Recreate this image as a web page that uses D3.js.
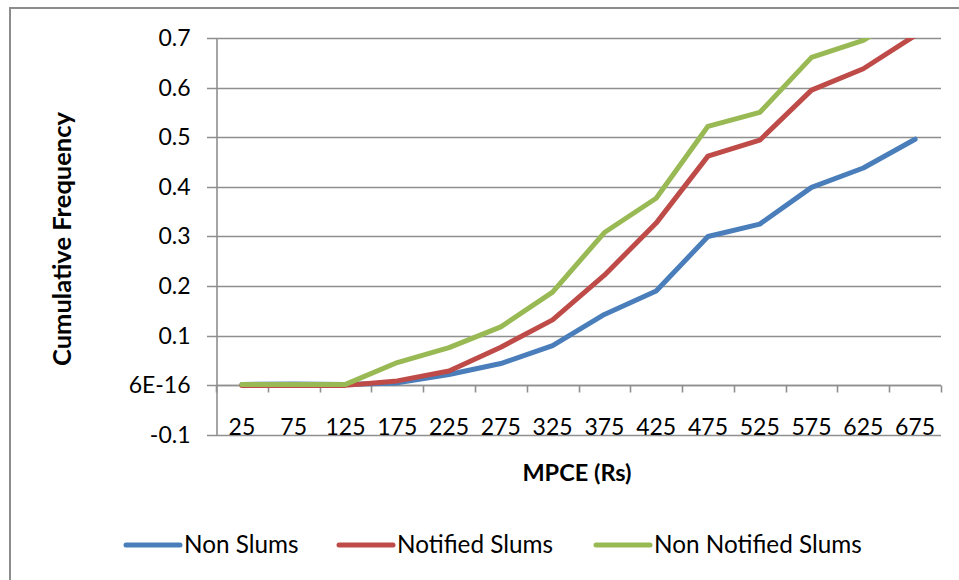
<!DOCTYPE html>
<html>
<head>
<meta charset="utf-8">
<script src="https://cdn.jsdelivr.net/npm/d3@7"></script>
<style>
  html, body { margin: 0; padding: 0; background: #ffffff; }
  svg { display: block; }
  text { font-family: Lato, "Open Sans", sans-serif; fill: #000; }
</style>
</head>
<body>
<svg id="chart" width="959" height="580"></svg>
<script>
// MPCE classes (Rs) on the category axis
const categories = [25, 75, 125, 175, 225, 275, 325, 375, 425, 475, 525, 575, 625, 675];

// Cumulative frequency by settlement type
const nonSlums    = [0.002, 0.003, 0.002, 0.005, 0.022, 0.044, 0.080, 0.143, 0.190, 0.300, 0.325, 0.399, 0.438, 0.496];
const notified    = [0.000, 0.000, 0.000, 0.009, 0.029, 0.077, 0.132, 0.222, 0.327, 0.462, 0.494, 0.595, 0.638, 0.705];
const nonNotified = [0.002, 0.002, 0.002, 0.046, 0.076, 0.118, 0.188, 0.308, 0.377, 0.522, 0.550, 0.661, 0.695, 0.760];

const seriesNames  = ["Non Slums", "Notified Slums", "Non Notified Slums"];
const seriesColors = ["#4a7ebb", "#be4b48", "#98b954"];

// Value-axis ticks and the labels shown beside them
const yTickValues = [-0.1, 0, 0.1, 0.2, 0.3, 0.4, 0.5, 0.6, 0.7];
const yTickLabels = ["-0.1", "6E-16", "0.1", "0.2", "0.3", "0.4", "0.5", "0.6", "0.7"];

const svg = d3.select("#chart");

// Chart frame
svg.append("rect")
  .attr("x", 10).attr("y", 8)
  .attr("width", 980).attr("height", 620)
  .attr("fill", "#fff")
  .attr("stroke", "#8c8c8c")
  .attr("stroke-width", 2);

const plot = { left: 216, right: 941, top: 38, bottom: 435 };

const x = d3.scaleBand()
  .domain(categories)
  .range([plot.left, plot.right])
  .paddingInner(0).paddingOuter(0);
const cx = c => x(c) + x.bandwidth() / 2;

const y = d3.scaleLinear()
  .domain([-0.1, 0.7])
  .range([plot.bottom, plot.top]);

// Horizontal gridlines (with the tick stubs to the left of the axis)
svg.append("g")
  .selectAll("line")
  .data(yTickValues)
  .join("line")
  .attr("x1", plot.left - 9).attr("x2", plot.right)
  .attr("y1", d => Math.round(y(d)) + 0.5).attr("y2", d => Math.round(y(d)) + 0.5)
  .attr("stroke", "#8f8f8f")
  .attr("stroke-width", 1.6);

// Value axis
const yAxis = d3.axisLeft(y)
  .tickValues(yTickValues)
  .tickFormat((d, i) => yTickLabels[i])
  .tickSize(0)
  .tickPadding(26);
const gy = svg.append("g")
  .attr("transform", `translate(${plot.left + 0.5},0)`)
  .call(yAxis);
gy.select(".domain").attr("stroke", "#8f8f8f").attr("stroke-width", 1.6);
gy.selectAll(".tick text")
  .attr("font-size", 23)
  .attr("font-family", "Lato, 'Open Sans', sans-serif")
  .attr("fill", "#000");

// Category axis crossing at zero, with ticks between categories
const y0 = Math.round(y(0)) + 0.5;
const gx = svg.append("g");
gx.append("line")
  .attr("x1", plot.left).attr("x2", plot.right)
  .attr("y1", y0).attr("y2", y0)
  .attr("stroke", "#8f8f8f").attr("stroke-width", 1.6);
const boundaries = categories.map(c => x(c)).concat([x(categories[categories.length - 1]) + x.bandwidth()]);
gx.selectAll("line.tick")
  .data(boundaries)
  .join("line")
  .attr("class", "tick")
  .attr("x1", d => Math.round(d) + 0.5).attr("x2", d => Math.round(d) + 0.5)
  .attr("y1", y0).attr("y2", y0 + 7)
  .attr("stroke", "#8f8f8f").attr("stroke-width", 1.6);

// Category labels sit below the plot area
const xAxis = d3.axisBottom(x).tickSize(0).tickPadding(0);
const gxl = svg.append("g")
  .attr("transform", `translate(0,${plot.bottom - 16})`)
  .call(xAxis);
gxl.select(".domain").remove();
gxl.selectAll(".tick text")
  .attr("font-size", 23)
  .attr("font-family", "Lato, 'Open Sans', sans-serif")
  .attr("fill", "#000");

// Series lines, clipped to the plot area
svg.append("clipPath").attr("id", "plotClip")
  .append("rect")
  .attr("x", plot.left).attr("y", plot.top)
  .attr("width", plot.right - plot.left).attr("height", plot.bottom - plot.top);

const allSeries = [nonSlums, notified, nonNotified];
const line = d3.line()
  .x((d, i) => cx(categories[i]))
  .y(d => y(d));

svg.append("g")
  .attr("clip-path", "url(#plotClip)")
  .selectAll("path")
  .data(allSeries)
  .join("path")
  .attr("d", d => line(d))
  .attr("fill", "none")
  .attr("stroke", (d, i) => seriesColors[i])
  .attr("stroke-width", 5)
  .attr("stroke-linejoin", "round")
  .attr("stroke-linecap", "round");

// Axis titles
svg.append("text")
  .attr("transform", "translate(71,239) rotate(-90)")
  .attr("text-anchor", "middle")
  .attr("font-size", 25.5)
  .attr("font-weight", "bold")
  .text("Cumulative Frequency");

svg.append("text")
  .attr("x", 577).attr("y", 481)
  .attr("text-anchor", "middle")
  .attr("font-size", 23.5)
  .attr("font-weight", "bold")
  .text("MPCE (Rs)");

// Legend
const legendX = [126, 339, 596];
const legend = svg.append("g");
seriesNames.forEach((name, i) => {
  legend.append("line")
    .attr("x1", legendX[i]).attr("x2", legendX[i] + 54)
    .attr("y1", 545).attr("y2", 545)
    .attr("stroke", seriesColors[i])
    .attr("stroke-width", 5)
    .attr("stroke-linecap", "round");
  legend.append("text")
    .attr("x", legendX[i] + 58).attr("y", 553)
    .attr("font-size", 24.3)
    .text(name);
});
</script>
</body>
</html>
